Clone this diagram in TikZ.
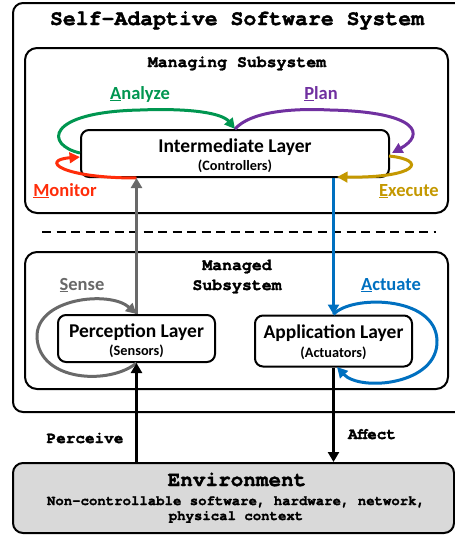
\documentclass[tikz,border=0pt]{standalone}
\usepackage{fontspec}
\setmainfont{Carlito}
\newfontface\mono{TeX Gyre Cursor Bold}[FakeBold=1.6]
\usetikzlibrary{arrows.meta}
\definecolor{cgreen}{RGB}{0,150,80}
\definecolor{cpurple}{RGB}{112,48,160}
\definecolor{cred}{RGB}{255,45,10}
\definecolor{cgold}{RGB}{196,152,0}
\definecolor{cgray}{RGB}{105,105,105}
\definecolor{cblue}{RGB}{0,112,192}
\definecolor{envfill}{RGB}{217,217,217}
\begin{document}
\begin{tikzpicture}[x=1pt,y=-1pt,
  frame/.style={draw, line width=2pt, rounded corners=12pt, inner sep=0pt},
  layer/.style={draw, line width=2pt, rounded corners=8pt, inner sep=0pt, fill=white},
  monolbl/.style={anchor=base, inner sep=0pt, font=\mono\fontsize{16.5}{18}\selectfont},
  phase/.style={anchor=base, inner sep=0pt, font=\bfseries\fontsize{18.5}{20}\selectfont},
  lname/.style={anchor=base, inner sep=0pt, font=\bfseries\fontsize{19.5}{21}\selectfont},
  lsub/.style={anchor=base, inner sep=0pt, font=\bfseries\fontsize{14.3}{16}\selectfont},
  loop/.style={line width=3pt, -{Triangle[length=10.5pt,width=10.5pt]}},
  link/.style={line width=3pt, -{Triangle[length=10pt,width=11pt]}}]
\useasboundingbox (0,0) rectangle (455,536);
\clip (0,0) rectangle (455,536);

% outer system frame and the two subsystems
\node[frame, rounded corners=10pt, minimum width=457pt, minimum height=409pt] (sys) at (241.5,207.5) {};
\node[anchor=base, inner sep=0pt, font=\mono\fontsize{21.5}{24}\selectfont] (systitle) at (237,25) {Self-Adaptive Software System};
\node[frame, minimum width=423pt, minimum height=165pt] (managing) at (236.5,130.5) {};
\node[monolbl] (managingtitle) at (237,67) {Managing Subsystem};
\node[frame, minimum width=423pt, minimum height=137pt] (managed) at (236.5,320.5) {};
\node[monolbl] (managedtitle1) at (237,270) {Managed};
\node[monolbl] (managedtitle2) at (237,290) {Subsystem};

% separator between the subsystems
\coordinate (sepL) at (42,232);
\coordinate (sepR) at (436,232);
\draw[line width=2.5pt, dash pattern=on 9pt off 5.5pt] (sepL) -- (sepR);

% layers
\node[layer, minimum width=308pt, minimum height=47pt] (inter) at (235,153.5) {};
\node[lname] (intername) at (235,152) {Intermediate Layer};
\node[lsub] (intersub) at (235,170) {(Controllers)};
\node[layer, minimum width=157pt, minimum height=47pt] (perc) at (136.5,338.5) {};
\node[lname] (percname) at (136.5,337) {Perception Layer};
\node[lsub] (percsub) at (136.5,355) {(Sensors)};
\node[layer, minimum width=157pt, minimum height=51pt] (appl) at (333.5,341) {};
\node[lname] (applname) at (333.5,338) {Application Layer};
\node[lsub] (applsub) at (333.5,357) {(Actuators)};

% environment
\node[draw, line width=2pt, rounded corners=10pt, fill=envfill, minimum width=441pt, minimum height=70pt] (env) at (233.5,498) {};
\node[anchor=base, inner sep=0pt, font=\mono\fontsize{21}{24}\selectfont] (envtitle) at (237,486) {Environment};
\node[anchor=base, inner sep=0pt, font=\mono\fontsize{14}{16}\selectfont] (envdesc1) at (236,505) {Non-controllable software, hardware, network,};
\node[anchor=base, inner sep=0pt, font=\mono\fontsize{14}{16}\selectfont] (envdesc2) at (236,520) {physical context};

% MAPE-K loop labels
\node[phase, text=cgreen] (analyze) at (140,99) {\underline{A}nalyze};
\node[phase, text=cpurple] (plan) at (321,99) {\underline{P}lan};
\node[phase, text=cred] (monitor) at (65,196) {\underline{M}onitor};
\node[phase, text=cgold] (execute) at (409,196) {\underline{E}xecute};
\node[phase, text=cgray] (sense) at (82,290) {\underline{S}ense};
\node[phase, text=cblue] (actuate) at (391,290) {\underline{A}ctuate};

% anchor points on the intermediate layer
\coordinate (interTop) at (inter.north);
\coordinate (interWup) at (80,153);
\coordinate (interWlo) at (80,157);
\coordinate (interEup) at (392,153);
\coordinate (interElo) at (389,156);
\coordinate (interSL) at (inter.south -| perc.north);
\coordinate (interSR) at (inter.south -| appl.north);
\coordinate (goldEnd) at (337,177);

% managing loop
\draw[loop, cgreen] (interWup) .. controls (45,145) and (45,112) .. (140,110)
  .. controls (190,108) and (222,113) .. (interTop);
\draw[loop, cpurple] (interTop) .. controls (250,112) and (290,108) .. (330,110)
  .. controls (420,112) and (425,135) .. (interEup);
\draw[loop, cgold] (interElo) .. controls (428,160) and (418,178) .. (goldEnd);
\draw[loop, cred] (interSL) .. controls (60,178) and (40,160) .. (interWlo);

% links between layers
\draw[link, cgray] (perc.north) -- (interSL);
\draw[link, cblue] (interSR) -- (appl.north);

% managed loops
\coordinate (percBot) at (perc.south);
\coordinate (applBot) at (337,367);
\draw[loop, cgray] (percBot) .. controls (110,385) and (40,382) .. (37,338)
  .. controls (35,298) and (110,290) .. (perc.north);
\draw[loop, cblue] (appl.north) .. controls (350,295) and (435,295) .. (437,340)
  .. controls (439,385) and (360,392) .. (applBot);

% interaction with the environment
\draw[link, black] (env.north -| perc.south) -- (perc.south);
\draw[link, black] (appl.south) -- (env.north -| appl.south);
\node[monolbl, font=\mono\fontsize{16}{18}\selectfont] (perceive) at (85,443) {Perceive};
\node[monolbl, font=\mono\fontsize{16}{18}\selectfont] (affect) at (372,439) {Affect};
\end{tikzpicture}
\end{document}
